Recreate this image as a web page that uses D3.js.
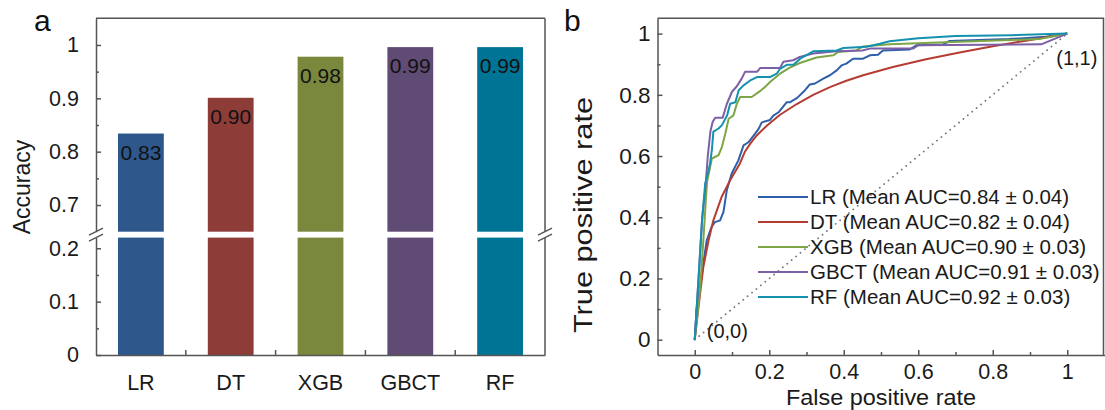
<!DOCTYPE html>
<html>
<head>
<meta charset="utf-8">
<script src="https://cdn.jsdelivr.net/npm/d3@7"></script>
<style>
  body { margin: 0; background: #fff; }
  svg { display: block; font-family: "Liberation Sans", Arial, sans-serif; }
  .axis text { fill: #1a1a1a; }
  .axis path, .axis line { stroke: #555; stroke-width: 1.5; }
</style>
</head>
<body>
<div id="chart"></div>
<script>
// 数据 —— 图 a：各模型准确率
const models = ["LR", "DT", "XGB", "GBCT", "RF"];
const accuracy = [0.834, 0.901, 0.978, 0.996, 0.996];
const accLabels = ["0.83", "0.90", "0.98", "0.99", "0.99"];
const barColors = ["#2e588c", "#8e3c38", "#7a883e", "#5f4b73", "#007494"];
const yTicksUpper = [0.7, 0.8, 0.9, 1];
const yMinorUpper = [0.75, 0.85, 0.95];
const yTicksLower = [0, 0.1, 0.2];
const yMinorLower = [0.05, 0.15];

// 数据 —— 图 b：ROC 曲线 [FPR, TPR]
const rocLR = [[0,0],[0.005,0.1],[0.019,0.215],[0.032,0.324],[0.045,0.368],[0.054,0.384],[0.068,0.39],[0.077,0.417],[0.086,0.488],[0.099,0.542],[0.117,0.586],[0.131,0.635],[0.144,0.645],[0.158,0.667],[0.171,0.688],[0.18,0.71],[0.202,0.718],[0.211,0.732],[0.225,0.743],[0.247,0.776],[0.256,0.776],[0.275,0.79],[0.296,0.815],[0.309,0.834],[0.323,0.837],[0.345,0.853],[0.363,0.864],[0.381,0.88],[0.394,0.896],[0.407,0.902],[0.425,0.918],[0.452,0.918],[0.47,0.929],[0.492,0.931],[0.505,0.945],[0.577,0.948],[0.595,0.962],[0.666,0.964],[0.684,0.976],[0.844,0.982],[0.942,0.99],[1,1]];
const rocDT = [[0,0],[0.01,0.106],[0.023,0.237],[0.037,0.324],[0.05,0.39],[0.072,0.466],[0.095,0.521],[0.121,0.575],[0.135,0.615],[0.15,0.642],[0.167,0.668],[0.194,0.7],[0.229,0.735],[0.274,0.77],[0.318,0.8],[0.363,0.825],[0.407,0.846],[0.452,0.864],[0.532,0.891],[0.621,0.916],[0.711,0.938],[0.8,0.959],[0.889,0.977],[0.96,0.991],[1,1]];
const rocXGB = [[0,0],[0.014,0.161],[0.023,0.324],[0.03,0.46],[0.033,0.516],[0.046,0.592],[0.064,0.603],[0.073,0.63],[0.082,0.673],[0.091,0.722],[0.104,0.733],[0.113,0.771],[0.122,0.793],[0.153,0.793],[0.175,0.812],[0.189,0.826],[0.202,0.842],[0.229,0.869],[0.255,0.889],[0.282,0.904],[0.327,0.922],[0.372,0.929],[0.385,0.94],[0.434,0.945],[0.452,0.958],[0.523,0.965],[0.711,0.973],[0.924,0.982],[1,1]];
const rocGBCT = [[0,0],[0.01,0.2],[0.02,0.4],[0.029,0.5],[0.035,0.6],[0.042,0.68],[0.048,0.711],[0.055,0.725],[0.075,0.725],[0.086,0.77],[0.1,0.81],[0.113,0.828],[0.126,0.853],[0.135,0.875],[0.167,0.875],[0.176,0.888],[0.229,0.888],[0.238,0.908],[0.264,0.913],[0.282,0.924],[0.318,0.935],[0.38,0.942],[0.45,0.945],[0.47,0.951],[0.586,0.951],[0.6,0.962],[0.93,0.965],[1,1]];
const rocRF = [[0,0],[0.01,0.195],[0.019,0.379],[0.028,0.51],[0.037,0.553],[0.041,0.575],[0.046,0.62],[0.05,0.68],[0.064,0.69],[0.073,0.701],[0.087,0.733],[0.095,0.771],[0.109,0.776],[0.118,0.815],[0.131,0.831],[0.149,0.847],[0.167,0.858],[0.202,0.858],[0.22,0.869],[0.229,0.885],[0.247,0.898],[0.265,0.898],[0.283,0.918],[0.318,0.942],[0.381,0.945],[0.399,0.953],[0.461,0.957],[0.497,0.967],[0.523,0.975],[0.6,0.985],[0.7,0.992],[0.85,0.995],[1,1]];
const rocSeries = [rocLR, rocDT, rocXGB, rocGBCT, rocRF];
const aucLabels = [
    "LR (Mean AUC=0.84 ± 0.04)",
    "DT (Mean AUC=0.82 ± 0.04)",
    "XGB (Mean AUC=0.90 ± 0.03)",
    "GBCT (Mean AUC=0.91 ± 0.03)",
    "RF (Mean AUC=0.92 ± 0.03)"
];
const lineColors = ["#2e5faa", "#b43c32", "#7da546", "#7d5fa5", "#1491af"];
const xTicksB = [0, 0.2, 0.4, 0.6, 0.8, 1];
const xMinorB = [0.1, 0.3, 0.5, 0.7, 0.9];
const yTicksB = [0, 0.2, 0.4, 0.6, 0.8, 1];
const yMinorB = [0.1, 0.3, 0.5, 0.7, 0.9];

const fmt = d3.format("~g");
const frameColor = "#555";

const svg = d3.select("#chart").append("svg")
    .attr("width", 1105)
    .attr("height", 410);

// 统一坐标轴文字样式（去掉 d3 默认的字体属性）
function styleAxis(g, size) {
    g.attr("class", "axis").attr("font-family", null).attr("font-size", null);
    g.selectAll("text").style("font-size", size + "px");
}

// ---------------- 图 a ----------------
const xA = d3.scaleBand()
    .domain(models)
    .range([96, 545])
    .paddingInner(0.49)
    .paddingOuter(0.245);
const yUp = d3.scaleLinear().domain([0.65, 1.05]).range([231.7, 18.3]);
const yLo = d3.scaleLinear().domain([0, 0.22]).range([355, 237.6]);

const a = svg.append("g");

// 柱子（上下两段，中间断开）
a.selectAll(".barUp")
    .data(models)
    .enter().append("rect")
    .attr("x", d => xA(d))
    .attr("width", xA.bandwidth())
    .attr("y", (d, i) => yUp(accuracy[i]))
    .attr("height", (d, i) => yUp(0.65) - yUp(accuracy[i]))
    .attr("fill", (d, i) => barColors[i]);

a.selectAll(".barLo")
    .data(models)
    .enter().append("rect")
    .attr("x", d => xA(d))
    .attr("width", xA.bandwidth())
    .attr("y", yLo(0.22))
    .attr("height", yLo(0) - yLo(0.22))
    .attr("fill", (d, i) => barColors[i]);

a.selectAll(".valLabel")
    .data(models)
    .enter().append("text")
    .attr("x", d => xA(d) + xA.bandwidth() / 2)
    .attr("y", (d, i) => yUp(accuracy[i]) + 26)
    .attr("text-anchor", "middle")
    .style("font-size", "21px")
    .attr("fill", "#111")
    .text((d, i) => accLabels[i]);

// 纵轴（上段、下段）
a.append("g")
    .attr("transform", "translate(96,0)")
    .call(d3.axisLeft(yUp).tickValues(yTicksUpper).tickFormat(fmt)
        .tickSizeInner(-5).tickSizeOuter(0).tickPadding(17))
    .call(g => styleAxis(g, 21.5));
a.append("g")
    .attr("transform", "translate(96,0)")
    .call(d3.axisLeft(yUp).tickValues(yMinorUpper).tickFormat("").tickSize(-3))
    .call(g => { styleAxis(g, 21.5); g.select(".domain").remove(); });
a.append("g")
    .attr("transform", "translate(96,0)")
    .call(d3.axisLeft(yLo).tickValues(yTicksLower).tickFormat(fmt)
        .tickSizeInner(-5).tickSizeOuter(0).tickPadding(17))
    .call(g => styleAxis(g, 21.5));
a.append("g")
    .attr("transform", "translate(96,0)")
    .call(d3.axisLeft(yLo).tickValues(yMinorLower).tickFormat("").tickSize(-3))
    .call(g => { styleAxis(g, 21.5); g.select(".domain").remove(); });

// 横轴
a.append("g")
    .attr("transform", `translate(0,${yLo(0)})`)
    .call(d3.axisBottom(xA).tickSize(0).tickSizeOuter(0).tickPadding(20))
    .call(g => styleAxis(g, 21.5));
a.selectAll(".sepTick")
    .data(models.slice(1))
    .enter().append("line")
    .attr("x1", d => xA(d) - xA.step() * xA.paddingInner() / 2)
    .attr("x2", d => xA(d) - xA.step() * xA.paddingInner() / 2)
    .attr("y1", yLo(0))
    .attr("y2", yLo(0) - 5)
    .attr("stroke", frameColor)
    .attr("stroke-width", 1.5);

// 外框：顶边与右边
const [ax0, ax1] = xA.range();
a.append("line")
    .attr("x1", ax0).attr("x2", ax1)
    .attr("y1", yUp(1.05)).attr("y2", yUp(1.05))
    .attr("stroke", frameColor).attr("stroke-width", 1.5);
a.append("line")
    .attr("x1", ax1).attr("x2", ax1)
    .attr("y1", yUp(1.05)).attr("y2", yUp(0.65))
    .attr("stroke", frameColor).attr("stroke-width", 1.5);
a.append("line")
    .attr("x1", ax1).attr("x2", ax1)
    .attr("y1", yLo(0.22)).attr("y2", yLo(0))
    .attr("stroke", frameColor).attr("stroke-width", 1.5);

// 断轴标记
[ax0, ax1].forEach(x => {
    [yUp(0.65), yLo(0.22)].forEach(y => {
        a.append("line")
            .attr("x1", x - 7).attr("y1", y + 3.5)
            .attr("x2", x + 7).attr("y2", y - 3.5)
            .attr("stroke", frameColor).attr("stroke-width", 1.3);
    });
});

a.append("text")
    .attr("transform", "translate(30,187) rotate(-90)")
    .attr("text-anchor", "middle")
    .style("font-size", "23px")
    .attr("fill", "#1a1a1a")
    .text("Accuracy");

a.append("text")
    .attr("x", 34).attr("y", 31)
    .style("font-size", "30px")
    .attr("fill", "#111")
    .text("a");

// ---------------- 图 b ----------------
const xB = d3.scaleLinear().domain([-0.1, 1.1]).range([657.5, 1104.5]);
const yB = d3.scaleLinear().domain([-0.05, 1.05]).range([355, 18.3]);

const b = svg.append("g");

// 对角参考线
b.append("line")
    .attr("x1", xB(0)).attr("y1", yB(0))
    .attr("x2", xB(1)).attr("y2", yB(1))
    .attr("stroke", "#777")
    .attr("stroke-width", 1.8)
    .attr("stroke-linecap", "round")
    .attr("stroke-dasharray", "0.1,5.6");

const line = d3.line()
    .x(d => xB(d[0]))
    .y(d => yB(d[1]));

b.selectAll(".roc")
    .data(rocSeries)
    .enter().append("path")
    .attr("d", line)
    .attr("fill", "none")
    .attr("stroke", (d, i) => lineColors[i])
    .attr("stroke-width", 2)
    .attr("stroke-linejoin", "round");

// 坐标轴
b.append("g")
    .attr("transform", `translate(0,${yB(-0.05)})`)
    .call(d3.axisBottom(xB).tickValues(xTicksB).tickFormat(fmt)
        .tickSizeInner(-5).tickSizeOuter(0).tickPadding(8.5))
    .call(g => styleAxis(g, 21.5));
b.append("g")
    .attr("transform", `translate(0,${yB(-0.05)})`)
    .call(d3.axisBottom(xB).tickValues(xMinorB).tickFormat("").tickSize(-3))
    .call(g => { styleAxis(g, 21.5); g.select(".domain").remove(); });
b.append("g")
    .attr("transform", `translate(${xB(-0.1)},0)`)
    .call(d3.axisLeft(yB).tickValues(yTicksB).tickFormat(fmt)
        .tickSizeInner(-5).tickSizeOuter(0).tickPadding(7))
    .call(g => styleAxis(g, 22.5));
b.append("g")
    .attr("transform", `translate(${xB(-0.1)},0)`)
    .call(d3.axisLeft(yB).tickValues(yMinorB).tickFormat("").tickSize(-3))
    .call(g => { styleAxis(g, 22.5); g.select(".domain").remove(); });

// 外框：顶边与右边
b.append("path")
    .attr("d", `M${xB(-0.1)},${yB(1.05)}H${xB(1.1) - 1}V${yB(-0.05)}`)
    .attr("fill", "none")
    .attr("stroke", frameColor)
    .attr("stroke-width", 1.5);

// 图例
const legend = b.selectAll(".legend")
    .data(aucLabels)
    .enter().append("g")
    .attr("transform", (d, i) => `translate(0,${204 + i * 25})`);
legend.append("line")
    .attr("x1", 758).attr("x2", 808)
    .attr("y1", -7).attr("y2", -7)
    .attr("stroke", (d, i) => lineColors[i])
    .attr("stroke-width", 2);
legend.append("text")
    .attr("x", 810)
    .style("font-size", "20.5px")
    .attr("fill", "#1a1a1a")
    .text(d => d);

// 端点标注
b.append("text")
    .attr("x", xB(0) + 12).attr("y", yB(0) - 2)
    .style("font-size", "20px").attr("fill", "#1a1a1a")
    .text("(0,0)");
b.append("text")
    .attr("x", xB(1) - 11).attr("y", yB(1) + 31)
    .style("font-size", "20px").attr("fill", "#1a1a1a")
    .text("(1,1)");

b.append("text")
    .attr("transform", "translate(592,215) rotate(-90)")
    .attr("text-anchor", "middle")
    .attr("textLength", 236)
    .attr("lengthAdjust", "spacingAndGlyphs")
    .style("font-size", "25px")
    .attr("fill", "#1a1a1a")
    .text("True positive rate");

b.append("text")
    .attr("x", xB(0.5)).attr("y", 405)
    .attr("text-anchor", "middle")
    .attr("textLength", 190)
    .attr("lengthAdjust", "spacingAndGlyphs")
    .style("font-size", "22px")
    .attr("fill", "#1a1a1a")
    .text("False positive rate");

b.append("text")
    .attr("x", 564).attr("y", 31)
    .style("font-size", "30px")
    .attr("fill", "#111")
    .text("b");
</script>
</body>
</html>
